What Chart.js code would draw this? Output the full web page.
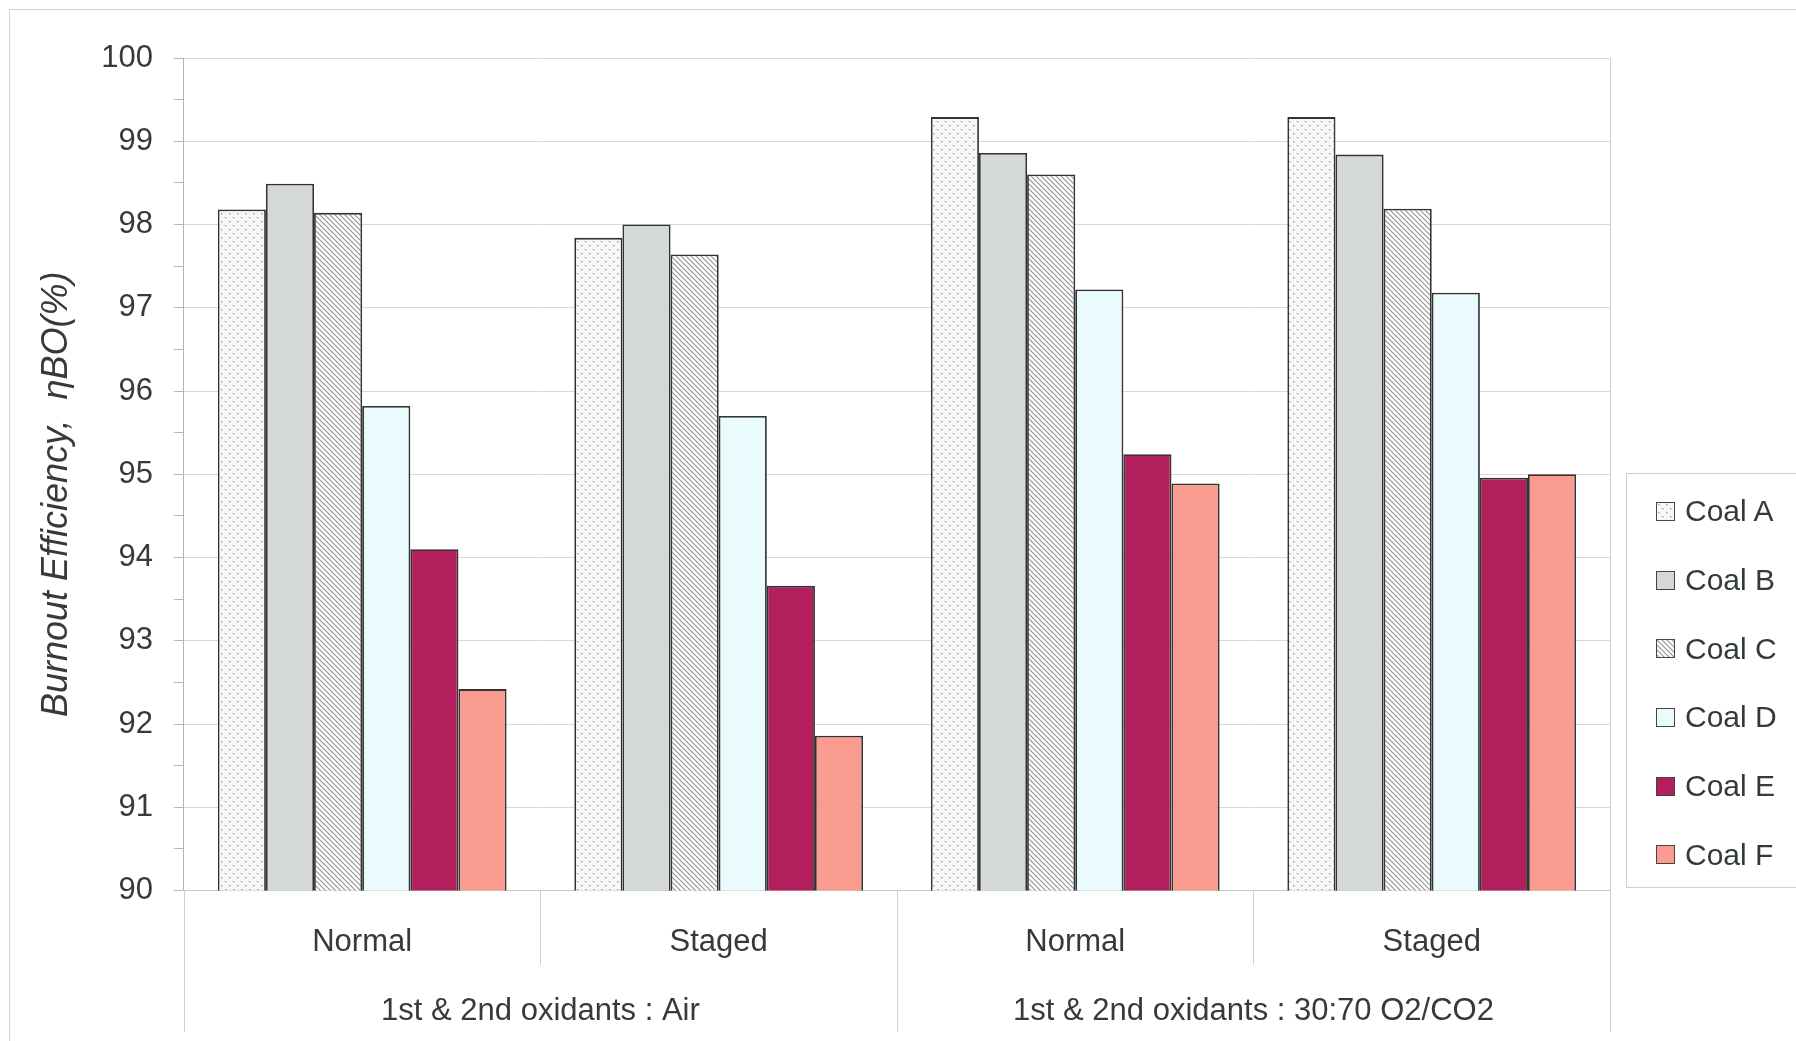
<!DOCTYPE html>
<html>
<head>
<meta charset="utf-8">
<script src="https://cdn.jsdelivr.net/npm/chart.js@4/dist/chart.umd.min.js"></script>
<style>
  html, body { margin: 0; padding: 0; background: #fff; overflow: hidden; }
  #wrap { position: relative; width: 1796px; height: 1041px; }
  #frame { position: absolute; left: 9px; top: 9px; width: 1800px; height: 1050px; border: 1px solid #d2d2d2; }
  #legend {
    position: absolute; left: 1626px; top: 473px; width: 190px; height: 415px;
    border: 1px solid #cfcfcf; box-sizing: border-box; padding-top: 3px;
    font-family: "Liberation Sans", Arial, sans-serif; font-size: 30px; color: #333a3e;
  }
  #legend .item { height: 68.7px; display: flex; align-items: center; padding-left: 29px; }
  #legend .swatch { width: 17px; height: 17px; border: 1px solid #444; margin-right: 10px; flex: none; }
</style>
</head>
<body>
<div id="wrap">
  <div id="frame"></div>
  <canvas id="burnoutChart" width="1796" height="1041"></canvas>
  <div id="legend"></div>
</div>
<script>
const categories = ["Normal", "Staged", "Normal", "Staged"];
const groupLabels = ["1st & 2nd oxidants : Air", "1st & 2nd oxidants : 30:70 O2/CO2"];
const coalNames = ["Coal A", "Coal B", "Coal C", "Coal D", "Coal E", "Coal F"];
const coalA = [98.18, 97.84, 99.29, 99.29];
const coalB = [98.49, 98.0, 98.86, 98.84];
const coalC = [98.14, 97.64, 98.6, 98.19];
const coalD = [95.82, 95.7, 97.22, 97.18];
const coalE = [94.1, 93.66, 95.24, 94.96];
const coalF = [92.42, 91.86, 94.89, 95.0];
const yTicks = [90, 91, 92, 93, 94, 95, 96, 97, 98, 99, 100];

const FONT = "'Liberation Sans', Arial, sans-serif";
const TEXT = "#353a3d";

// small repeating tiles for the patterned bars
function makeTile(kind) {
  const c = document.createElement("canvas");
  const ctx = c.getContext("2d");
  if (kind === "dots") {
    c.width = 8; c.height = 8;
    ctx.fillStyle = "#f7f7f7";
    ctx.fillRect(0, 0, 8, 8);
    ctx.fillStyle = "#a0a0a0";
    ctx.fillRect(1, 1, 1.4, 1.4);
    ctx.fillRect(5, 5, 1.4, 1.4);
  } else {
    c.width = 5; c.height = 5;
    ctx.fillStyle = "#ffffff";
    ctx.fillRect(0, 0, 5, 5);
    ctx.strokeStyle = "#929292";
    ctx.lineWidth = 1.1;
    ctx.beginPath();
    for (let k = -1; k <= 1; k++) {
      ctx.moveTo(k * 5 - 1, -1);
      ctx.lineTo(k * 5 + 6, 6);
    }
    ctx.stroke();
  }
  return c;
}

const tiles = { dots: makeTile("dots"), hatch: makeTile("hatch") };
const patternCtx = document.createElement("canvas").getContext("2d");

const fills = [
  { bg: patternCtx.createPattern(tiles.dots, "repeat"), css: `url(${tiles.dots.toDataURL()})` },
  { bg: "#d4d9d6", css: "#d4d9d6" },
  { bg: patternCtx.createPattern(tiles.hatch, "repeat"), css: `url(${tiles.hatch.toDataURL()})` },
  { bg: "#e9fbfd", css: "#e9fbfd" },
  { bg: "#b31f5c", css: "#b31f5c" },
  { bg: "#f99b8f", css: "#f99b8f" },
];

const seriesValues = [coalA, coalB, coalC, coalD, coalE, coalF];

// separators under the category axis + plot outline
const dividerLines = {
  id: "dividerLines",
  afterDraw(chart) {
    const { ctx, chartArea: a, scales } = chart;
    const x = scales.x;
    const x2 = scales.x2;
    const step = x.width / categories.length;
    ctx.save();
    ctx.strokeStyle = "#d0d0d0";
    ctx.lineWidth = 1;
    ctx.beginPath();
    ctx.moveTo(Math.round(a.right) + 0.5, a.top);
    ctx.lineTo(Math.round(a.right) + 0.5, a.bottom);
    for (let i = 0; i <= categories.length; i++) {
      const px = Math.round(x.left + i * step) + 0.5;
      const end = i % 2 === 0 ? x2.bottom + 3 : x.bottom - 30;
      ctx.moveTo(px, a.bottom);
      ctx.lineTo(px, end);
    }
    ctx.stroke();
    ctx.restore();
  },
};

const chart = new Chart(document.getElementById("burnoutChart"), {
  type: "bar",
  data: {
    labels: categories,
    datasets: coalNames.map((name, i) => ({
      label: name,
      data: seriesValues[i],
      backgroundColor: fills[i].bg,
      borderColor: "#333333",
      borderWidth: 1.8,
      borderSkipped: false,
      categoryPercentage: 0.81,
      barPercentage: 1.0,
    })),
  },
  options: {
    responsive: false,
    animation: false,
    layout: { padding: { left: 35, right: 186, top: 58, bottom: 12 } },
    plugins: {
      legend: { display: false },
      tooltip: { enabled: false },
    },
    scales: {
      y: {
        min: yTicks[0],
        max: yTicks[yTicks.length - 1],
        ticks: {
          stepSize: 0.5,
          callback: (v) => (yTicks.includes(v) ? v : ""),
          font: { family: FONT, size: 31 },
          color: TEXT,
          padding: 21,
        },
        grid: {
          color: (ctx) => (ctx.tick && yTicks.includes(ctx.tick.value) ? "#d9d9d9" : "rgba(0,0,0,0)"),
          tickColor: "#b8b8b8",
          tickLength: 10,
        },
        border: { color: "#b4b4b4" },
        title: {
          display: true,
          text: "Burnout Efficiency,  ηBO(%)    ",
          font: { family: FONT, size: 36, style: "italic" },
          color: TEXT,
          padding: { top: 0, bottom: 2 },
        },
      },
      x: {
        grid: { display: false, drawTicks: false },
        border: { color: "#c8c8c8" },
        ticks: {
          font: { family: FONT, size: 31 },
          color: TEXT,
          padding: 33.5,
          maxRotation: 0,
        },
      },
      x2: {
        type: "category",
        labels: groupLabels,
        offset: true,
        position: "bottom",
        grid: { display: false, drawTicks: false },
        border: { display: false },
        ticks: {
          font: { family: FONT, size: 31 },
          color: TEXT,
          padding: -1.5,
          maxRotation: 0,
        },
      },
    },
  },
  plugins: [dividerLines],
});

// html legend built from the chart datasets
const legendEl = document.getElementById("legend");
chart.data.datasets.forEach((ds, i) => {
  const item = document.createElement("div");
  item.className = "item";
  const sw = document.createElement("span");
  sw.className = "swatch";
  sw.style.background = fills[i].css;
  const label = document.createElement("span");
  label.textContent = ds.label;
  item.appendChild(sw);
  item.appendChild(label);
  legendEl.appendChild(item);
});
</script>
</body>
</html>
